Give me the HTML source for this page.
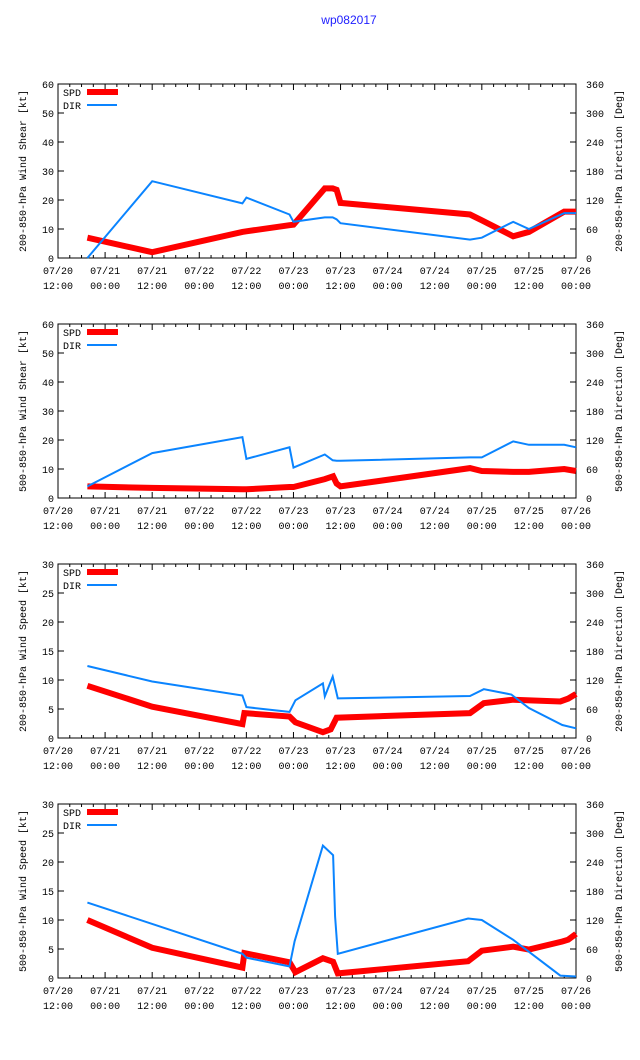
<!DOCTYPE html>
<html><head><meta charset="utf-8"><style>
html,body{margin:0;padding:0;background:#fff;}
svg{display:block;font-family:"Liberation Mono",monospace;}
</style></head><body>
<svg id="chart" width="640" height="1060" viewBox="0 0 640 1060" xmlns="http://www.w3.org/2000/svg">
<text x="349" y="24" text-anchor="middle" font-family="Liberation Sans, sans-serif" font-size="12" fill="#2020ff">wp082017</text>
</svg>
<script>
// ---- data ----
const xTickDates = ["07/20","07/21","07/21","07/22","07/22","07/23","07/23","07/24","07/24","07/25","07/25","07/26"];
const xTickTimes = ["12:00","00:00","12:00","00:00","12:00","00:00","12:00","00:00","12:00","00:00","12:00","00:00"];
const leftTitles = ["200-850-hPa Wind Shear [kt]","500-850-hPa Wind Shear [kt]","200-850-hPa Wind Speed [kt]","500-850-hPa Wind Speed [kt]"];
const rightTitles = ["200-850-hPa Direction [Deg]","500-850-hPa Direction [Deg]","200-850-hPa Direction [Deg]","500-850-hPa Direction [Deg]"];
const leftMax = [60,60,30,30];
const leftStep = [10,10,5,5];
const dirTicks = [0,60,120,180,240,300,360];
// hours since 07/20 12:00
const p1SpdT = [7.5,24,47,48,59,60,68,70,71,72,105,108,116,120,129,132];
const p1Spd  = [7,2,9,9.2,11.3,11.5,24,24,23.5,19,15,13,7.5,9,16,16];
const p1DirT = [7.5,24,47,48,59,60,68,70,71,72,105,108,116,120,129,132];
const p1Dir  = [0,159,113,125,90,75,84,84,80,72,38,42,75,60,93,93];
const p2SpdT = [7.5,24,47,48,59,60,68,70.1,71,72,105,108,116,120,129,132];
const p2Spd  = [4,3.5,3,3,3.8,3.8,6.5,7.5,5,4,10.3,9.3,9,9,10,9.3];
const p2DirT = [7.5,24,47,48,59,60,68,70,71,72,105,108,116,120,129,132];
const p2Dir  = [24,93,126,81,105,63,90,78,77,77,84,84,117,110,110,105];
const p3SpdT = [7.5,24,47,47.5,59,60.5,67.5,69.5,71,105,108.5,116,128,130,132];
const p3Spd  = [9,5.4,2.4,4.3,3.7,2.7,1,1.5,3.5,4.3,6,6.6,6.3,6.8,7.6];
const p3DirT = [7.5,24,47,48,59,60.5,67.5,68,70,71.3,105,108.5,115.5,120,128.5,132];
const p3Dir  = [149,117,88,64,54,78,113,86,127,82,87,101,90,62,27,20];
const p4SpdT = [7.5,24,47,47.5,59,60.5,67.5,70.1,71.3,104.5,108,116,120,128.5,130,132];
const p4Spd  = [10,5.2,1.8,4.3,2.7,1,3.4,2.8,0.8,2.9,4.7,5.4,4.9,6.3,6.6,7.6];
const p4DirT = [7.5,24,47,48,59,60.3,67.5,70.1,70.6,71.3,104.5,108,116,128,132];
const p4Dir  = [156,112,50,42,24,76,274,254,127,50,123,120,79,5,3];

const panels = [
  {spdT:p1SpdT,spd:p1Spd,dirT:p1DirT,dir:p1Dir},
  {spdT:p2SpdT,spd:p2Spd,dirT:p2DirT,dir:p2Dir},
  {spdT:p3SpdT,spd:p3Spd,dirT:p3DirT,dir:p3Dir},
  {spdT:p4SpdT,spd:p4Spd,dirT:p4DirT,dir:p4Dir}
];

const NS="http://www.w3.org/2000/svg";
const svg=document.getElementById('chart');
function mk(tag,attrs,parent){const e=document.createElementNS(NS,tag);for(const k in attrs)e.setAttribute(k,attrs[k]);(parent||svg).appendChild(e);return e;}
const L=58,R=576,H=174,TMAX=132;
function xs(h){return L+h*(R-L)/TMAX;}

panels.forEach((p,i)=>{
  const top=84+i*240, bot=top+H;
  const g=mk('g',{});
  
  
  const ys=v=>bot-v*H/leftMax[i];
  const yd=v=>bot-v*H/360;
  const fr=mk('rect',{x:L,y:top,width:R-L,height:H,fill:'none',stroke:'#000','stroke-width':1},g);
  
  
  // x ticks
  for(let h=0;h<=TMAX;h+=3){
    const x=xs(h), len=(h%12===0)?6:3;
    mk('line',{x1:x,y1:bot,x2:x,y2:bot-len,stroke:'#000'},g);
    mk('line',{x1:x,y1:top,x2:x,y2:top+len,stroke:'#000'},g);
  }
  xTickDates.forEach((d,k)=>{
    const x=xs(k*12);
    const t=mk('text',{x:x,y:bot+16,'text-anchor':'middle','font-size':10},g);
    
    
    t.textContent=d;
    const t2=mk('text',{x:x,y:bot+31,'text-anchor':'middle','font-size':10},g);
    
    
    t2.textContent=xTickTimes[k];
  });
  for(let v=0;v<=leftMax[i];v+=leftStep[i]){
    const y=ys(v);
    mk('line',{x1:L,y1:y,x2:L+6,y2:y,stroke:'#000'},g);
    const t=mk('text',{x:L-4,y:y+4,'text-anchor':'end','font-size':10},g);
    
    
    t.textContent=v;
  }
  dirTicks.forEach(v=>{
    const y=yd(v);
    mk('line',{x1:R,y1:y,x2:R-6,y2:y,stroke:'#000'},g);
    const t=mk('text',{x:R+10,y:y+4,'text-anchor':'start','font-size':10},g);
    
    
    t.textContent=v;
  });
  const lt=mk('text',{x:0,y:0,'text-anchor':'middle','font-size':10,transform:`translate(26,${top+H/2}) rotate(-90)`},g);
  
  
  lt.textContent=leftTitles[i];
  const rt=mk('text',{x:0,y:0,'text-anchor':'middle','font-size':10,transform:`translate(622,${top+H/2}) rotate(-90)`},g);
  
  
  rt.textContent=rightTitles[i];
  // series
  const dPts=p.dirT.map((t,k)=>xs(t).toFixed(1)+','+yd(p.dir[k]).toFixed(1)).join(' ');
  const sPts=p.spdT.map((t,k)=>xs(t).toFixed(1)+','+ys(p.spd[k]).toFixed(1)).join(' ');
  const sl=mk('polyline',{points:sPts,fill:'none',stroke:'#ff0000','stroke-width':6,'stroke-linejoin':'miter'},g);
  
  
  const dl=mk('polyline',{points:dPts,fill:'none',stroke:'#0a84ff','stroke-width':2},g);
  
  
  // legend
  const t1=mk('text',{x:63,y:top+12,'font-size':10},g);
  
  
  t1.textContent='SPD';
  mk('line',{x1:87,y1:top+8,x2:118,y2:top+8,stroke:'#ff0000','stroke-width':6},g);
  const t2=mk('text',{x:63,y:top+25,'font-size':10},g);
  
  
  t2.textContent='DIR';
  mk('line',{x1:87,y1:top+21,x2:117,y2:top+21,stroke:'#0a84ff','stroke-width':2},g);
});
</script>
</body></html>
